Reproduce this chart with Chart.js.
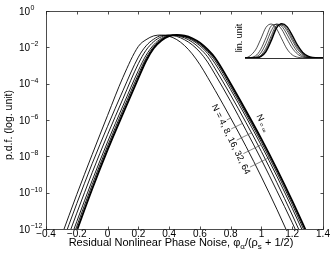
<!DOCTYPE html>
<html>
<head>
<meta charset="utf-8">
<script src="https://cdn.jsdelivr.net/npm/chart.js@4/dist/chart.umd.min.js"></script>
<style>
  html, body { margin: 0; padding: 0; background: #fff; }
  #wrap { position: relative; width: 332px; height: 259px; }
  #main { position: absolute; left: 0; top: 0; width: 332px; height: 259px; }
  #inset { position: absolute; left: 243px; top: 16px; width: 82px; height: 45px; }
</style>
</head>
<body>
<div id="wrap">
  <canvas id="main" width="332" height="259"></canvas>
  <canvas id="inset" width="82" height="45"></canvas>
</div>
<script>
// normalised residual nonlinear phase noise, shared by all curves
const phi = [-0.4, -0.3, -0.2, -0.1, 0, 0.1, 0.2, 0.25, 0.3, 0.35, 0.4, 0.45,
             0.5, 0.55, 0.6, 0.65, 0.7, 0.8, 0.9, 1.0, 1.1, 1.2, 1.3, 1.4];

// log10 of the p.d.f.
const logN4   = [-14.7, -12.4, -10.1, -7.9, -5.75, -3.65, -1.95, -1.58, -1.37, -1.325, -1.39, -1.575,
                 -1.9, -2.36, -2.95, -3.65, -4.38, -5.89, -7.46, -9.14, -10.91, -12.78, -14.7, -16.6];
const logN8   = [-15.2, -12.9, -10.6, -8.4, -6.35, -4.38, -2.54, -1.92, -1.55, -1.35, -1.33, -1.40,
                 -1.58, -1.86, -2.26, -2.81, -3.51, -4.98, -6.57, -8.19, -9.9, -11.65, -13.54, -15.44];
const logN16  = [-15.73, -13.43, -11.13, -8.9, -6.81, -4.83, -2.9, -2.16, -1.69, -1.42, -1.325, -1.354,
                 -1.48, -1.71, -2.06, -2.52, -3.19, -4.63, -6.15, -7.74, -9.44, -11.23, -13.1, -15.0];
const logN32  = [-16.19, -13.89, -11.59, -9.33, -7.21, -5.22, -3.28, -2.44, -1.86, -1.51, -1.345, -1.338,
                 -1.42, -1.61, -1.91, -2.33, -2.91, -4.33, -5.84, -7.41, -9.09, -10.86, -12.72, -14.62];
const logN64  = [-16.45, -14.15, -11.85, -9.56, -7.43, -5.44, -3.49, -2.6, -1.96, -1.57, -1.365, -1.33,
                 -1.39, -1.56, -1.83, -2.23, -2.75, -4.17, -5.67, -7.23, -8.89, -10.65, -12.51, -14.41];
const logNinf = [-16.7, -14.4, -12.1, -9.8, -7.65, -5.65, -3.7, -2.75, -2.05, -1.62, -1.38, -1.32,
                 -1.36, -1.5, -1.75, -2.12, -2.6, -4.0, -5.5, -7.05, -8.7, -10.45, -12.3, -14.2];

const curves = [logN4, logN8, logN16, logN32, logN64, logNinf];
const curveNames = ['4', '8', '16', '32', '64', '∞'];

const xTicks = [-0.4, -0.2, 0, 0.2, 0.4, 0.6, 0.8, 1, 1.2, 1.4];
const yTicks = [0, -2, -4, -6, -8, -10, -12];   // decades

const FONT = '"Liberation Sans", Arial, Helvetica, sans-serif';
Chart.defaults.font.family = FONT;
Chart.defaults.color = '#000';

// where the text labels sit (data units) and their slant
const groupLabel = { x: 0.69, y: -5.17, angle: 63.7, text: 'N = 4, 8, 16, 32, 64' };
const infLabel = { x: 0.98, y: -5.72, angle: 63.7 };

function hitCurve(points, p, d) {
    let best = null;
    for (let i = 1; i < points.length; i++) {
        const ax = points[i - 1].x, ay = points[i - 1].y;
        const ex = points[i].x - ax, ey = points[i].y - ay;
        const den = d.x * ey - d.y * ex;
        if (Math.abs(den) < 1e-9) continue;
        const t = ((ax - p.x) * ey - (ay - p.y) * ex) / den;
        const u = ((ax - p.x) * d.y - (ay - p.y) * d.x) / den;
        if (t > 0 && u >= 0 && u <= 1 && (best === null || t < best)) best = t;
    }
    return best;
}

// box with inward ticks, MATLAB style, plus the y labels 10^n
const axesBox = {
    id: 'axesBox',
    afterDraw(chart) {
        const ctx = chart.ctx;
        const a = chart.chartArea;
        const sx = chart.scales.x, sy = chart.scales.y;
        const L = Math.round(a.left) + 0.5, R = Math.round(a.right) + 0.5;
        const T = Math.round(a.top) + 0.5, B = Math.round(a.bottom) + 0.5;
        ctx.save();
        ctx.strokeStyle = '#222';
        ctx.lineWidth = 0.8;
        ctx.strokeRect(L, T, R - L, B - T);
        ctx.beginPath();
        xTicks.forEach(v => {
            const px = Math.round(sx.getPixelForValue(v)) + 0.5;
            ctx.moveTo(px, B); ctx.lineTo(px, B - 3);
            ctx.moveTo(px, T); ctx.lineTo(px, T + 3);
        });
        yTicks.forEach(v => {
            const py = Math.round(sy.getPixelForValue(v)) + 0.5;
            ctx.moveTo(L, py); ctx.lineTo(L + 3, py);
            ctx.moveTo(R, py); ctx.lineTo(R - 3, py);
        });
        ctx.stroke();

        ctx.fillStyle = '#000';
        ctx.textBaseline = 'middle';
        yTicks.forEach(v => {
            const py = sy.getPixelForValue(v);
            ctx.font = '10px ' + FONT;
            ctx.textAlign = 'right';
            ctx.fillText('10', 30, py + 1);
            ctx.font = '7px ' + FONT;
            ctx.textAlign = 'left';
            ctx.fillText(v === 0 ? '0' : '−' + Math.abs(v), 30.5, py - 3);
        });
        ctx.restore();
    }
};

// axis titles and the N labels with their leader lines
const labels = {
    id: 'labels',
    afterDatasetsDraw(chart) {
        const ctx = chart.ctx;
        const sx = chart.scales.x, sy = chart.scales.y;
        ctx.save();
        ctx.fillStyle = '#000';

        // y title
        ctx.font = '10.5px ' + FONT;
        ctx.textAlign = 'center';
        ctx.textBaseline = 'middle';
        ctx.save();
        ctx.translate(9, 125);
        ctx.rotate(-Math.PI / 2);
        ctx.fillText('p.d.f. (log. unit)', 0, 0);
        ctx.restore();

        // x title with subscripts
        const parts = [
            { t: 'Residual Nonlinear Phase Noise, φ', s: 11, dy: 0 },
            { t: 'α', s: 8, dy: 3 },
            { t: '/(ρ', s: 11, dy: 0 },
            { t: 's', s: 8, dy: 3 },
            { t: ' + 1/2)', s: 11, dy: 0 }
        ];
        let w = 0;
        parts.forEach(p => { ctx.font = p.s + 'px ' + FONT; p.w = ctx.measureText(p.t).width; w += p.w; });
        let cx = 181 - w / 2;
        ctx.textAlign = 'left';
        ctx.textBaseline = 'alphabetic';
        parts.forEach(p => {
            ctx.font = p.s + 'px ' + FONT;
            ctx.fillText(p.t, cx, 246 + p.dy);
            cx += p.w;
        });

        // inset caption
        ctx.font = '9px ' + FONT;
        ctx.textAlign = 'center';
        ctx.textBaseline = 'middle';
        ctx.save();
        ctx.translate(240, 38);
        ctx.rotate(-Math.PI / 2);
        ctx.fillText('lin. unit', 0, 0);
        ctx.restore();

        // group label N = 4, 8, ...
        const th = groupLabel.angle * Math.PI / 180;
        const dir = { x: Math.cos(th), y: Math.sin(th) };
        const up = { x: Math.sin(th), y: -Math.cos(th) };
        const gx = sx.getPixelForValue(groupLabel.x), gy = sy.getPixelForValue(groupLabel.y);
        ctx.font = '9px ' + FONT;
        ctx.save();
        ctx.translate(gx, gy);
        ctx.rotate(th);
        ctx.textAlign = 'left';
        ctx.fillText(groupLabel.text, 0, 0);
        ctx.restore();

        ctx.strokeStyle = '#555';
        ctx.lineWidth = 0.7;
        ctx.beginPath();
        let from = 0;
        curveNames.slice(0, 5).forEach((n, k) => {
            const idx = groupLabel.text.indexOf(n, from);
            from = idx + n.length;
            const off = ctx.measureText(groupLabel.text.slice(0, idx)).width + ctx.measureText(n).width / 2;
            const p = { x: gx + dir.x * off + up.x * 5, y: gy + dir.y * off + up.y * 5 };
            const t = hitCurve(chart.getDatasetMeta(k).data, p, up);
            if (t !== null) {
                ctx.moveTo(p.x, p.y);
                ctx.lineTo(p.x + up.x * t, p.y + up.y * t);
            }
        });
        ctx.stroke();

        // N = infinity label
        const ix = sx.getPixelForValue(infLabel.x), iy = sy.getPixelForValue(infLabel.y);
        const ti = infLabel.angle * Math.PI / 180;
        ctx.save();
        ctx.translate(ix, iy);
        ctx.rotate(ti);
        ctx.textAlign = 'left';
        ctx.font = '9px ' + FONT;
        ctx.fillText('N', 0, 0);
        const nw = ctx.measureText('N').width;
        ctx.font = '6.5px ' + FONT;
        ctx.fillText(' = ∞', nw, 2);
        ctx.restore();

        ctx.restore();
    }
};

new Chart(document.getElementById('main'), {
    type: 'line',
    data: {
        datasets: curves.map((vals, i) => ({
            label: 'N = ' + curveNames[i],
            data: phi.map((x, j) => ({ x: x, y: vals[j] })),
            borderColor: '#000',
            borderWidth: i === 5 ? 1.9 : 0.9,
            pointRadius: 0,
            cubicInterpolationMode: 'monotone',
            fill: false
        }))
    },
    options: {
        responsive: false,
        animation: false,
        events: [],
        layout: { padding: { top: 11, right: 9, left: 0, bottom: 0 } },
        plugins: { legend: { display: false }, tooltip: { enabled: false } },
        scales: {
            x: {
                type: 'linear',
                min: -0.4,
                max: 1.4,
                afterBuildTicks: s => { s.ticks = xTicks.map(v => ({ value: v })); },
                ticks: {
                    autoSkip: false,
                    maxRotation: 0,
                    padding: -1,
                    color: '#000',
                    font: { size: 10 },
                    callback: v => v === 0 ? '0' : String(v).replace('-', '−')
                },
                grid: { display: false, drawTicks: false, tickLength: 0 },
                border: { display: false },
                afterFit: s => { s.height = 30; }
            },
            y: {
                type: 'linear',
                min: -12,
                max: 0,
                ticks: { display: false },
                grid: { display: false, drawTicks: false },
                border: { display: false },
                afterFit: s => { s.width = 46; }
            }
        }
    },
    plugins: [axesBox, labels]
});

// inset: the same curves on a linear scale
const insetBase = {
    id: 'insetBase',
    afterDatasetsDraw(chart) {
        const ctx = chart.ctx, a = chart.chartArea;
        ctx.save();
        ctx.strokeStyle = '#000';
        ctx.lineWidth = 0.8;
        ctx.beginPath();
        ctx.moveTo(a.left, Math.round(a.bottom) + 0.5);
        ctx.lineTo(a.right, Math.round(a.bottom) + 0.5);
        ctx.stroke();
        ctx.restore();
    }
};

new Chart(document.getElementById('inset'), {
    type: 'line',
    data: {
        datasets: curves.map((vals, i) => ({
            data: phi.map((x, j) => ({ x: x, y: Math.pow(10, vals[j]) })),
            borderColor: '#000',
            borderWidth: i === 5 ? 1.4 : 0.7,
            pointRadius: 0,
            cubicInterpolationMode: 'monotone',
            fill: false
        }))
    },
    options: {
        responsive: false,
        animation: false,
        events: [],
        layout: { padding: { left: 2, right: 2, top: 2, bottom: 3 } },
        plugins: { legend: { display: false }, tooltip: { enabled: false } },
        scales: {
            x: { type: 'linear', min: 0.1, max: 0.843, display: false },
            y: { type: 'linear', min: 0, max: 0.0557, display: false }
        }
    },
    plugins: [insetBase]
});
</script>
</body>
</html>
